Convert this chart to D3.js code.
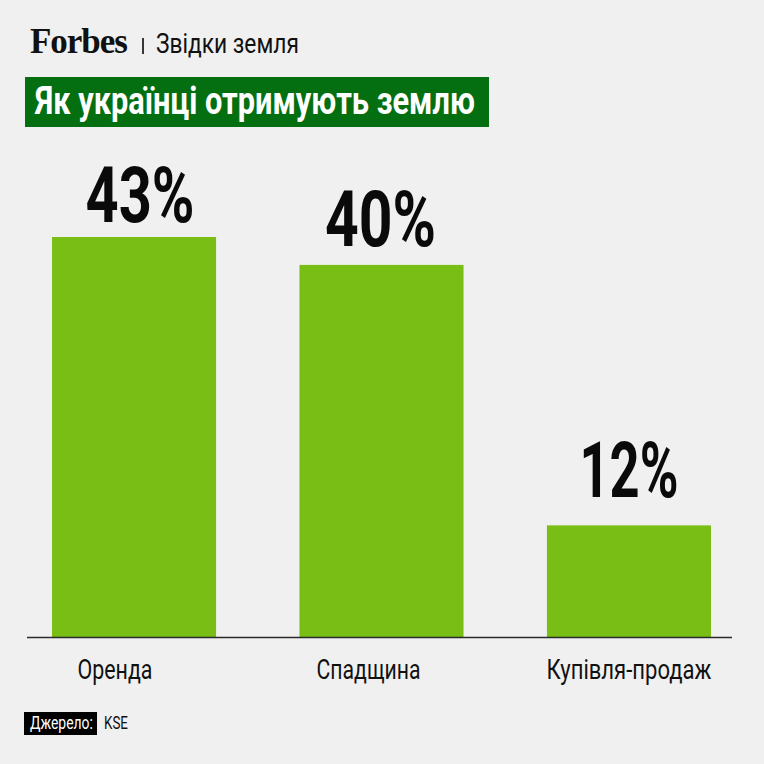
<!DOCTYPE html>
<html>
<head>
<meta charset="utf-8">
<script src="https://cdn.jsdelivr.net/npm/d3@7"></script>
<style>
  html, body { margin: 0; padding: 0; background: #f0f0f0; }
  svg { display: block; }
  .cond { font-family: Roboto, "Noto Sans", sans-serif; }
</style>
</head>
<body>
<svg id="chart" width="764" height="764"></svg>
<script>
// ── data ──────────────────────────────────────────────
const categories = ['Оренда', 'Спадщина', 'Купівля-продаж'];
const shares = [43, 40, 12];
const valueLabels = ['43%', '40%', '12%'];

const W = 764, H = 764;
const BAR_COLOR = '#79be15', TITLE_BG = '#046f10';

// no condensed face installed: squeeze a regular one to the width it should take
function squeeze(sel, width) {
  sel.each(function() {
    const t = d3.select(this);
    const w = this.getComputedTextLength();
    const k = typeof width === 'function' ? width.apply(this, arguments) / w : width / w;
    const x0 = +t.attr('x') || 0, y0 = +t.attr('y') || 0;
    t.attr('transform', `translate(${x0},${y0}) scale(${k},1) translate(${-x0},${-y0})`);
  });
  return sel;
}

const svg = d3.select('#chart');
svg.append('rect').attr('width', W).attr('height', H).attr('fill', '#f0f0f0');

// ── header ──
svg.append('text').attr('x', 30).attr('y', 53)
  .attr('font-family', '"Liberation Serif", "DejaVu Serif", serif')
  .attr('font-weight', 700).attr('font-size', 35).attr('letter-spacing', -1)
  .attr('fill', '#111').text('Forbes')
  .call(squeeze, 97);
svg.append('line').attr('x1', 143).attr('x2', 143).attr('y1', 38).attr('y2', 54)
  .attr('stroke', '#222').attr('stroke-width', 1.8);
svg.append('text').attr('class', 'cond').attr('x', 156).attr('y', 53)
  .attr('font-size', 28).attr('fill', '#111').text('Звідки земля')
  .call(squeeze, 143);

svg.append('rect').attr('x', 25).attr('y', 77).attr('width', 464).attr('height', 50)
  .attr('fill', TITLE_BG);
svg.append('text').attr('class', 'cond').attr('x', 35).attr('y', 114)
  .attr('font-size', 38).attr('font-weight', 700).attr('fill', '#fff')
  .text('Як українці отримують землю')
  .call(squeeze, 440);

// ── chart ──
const x = d3.scaleBand().domain(categories).range([52, 711]).paddingInner(0.337).paddingOuter(0);
const y = d3.scaleLinear().domain([0, 43]).range([637, 237]);

const labelGap = [15, 19, 28];       // gap between number and bar top
const valueShift = [6, -1, 0];
const catShift = [-19, -13, 0];      // category label nudge
const valueWidth = [109, 111, 99];
const catWidth = [75, 104, 165];

const bars = svg.append('g').selectAll('g').data(categories).join('g');

bars.append('rect')
  .attr('x', d => x(d)).attr('width', x.bandwidth())
  .attr('y', (d, i) => y(shares[i]))
  .attr('height', (d, i) => y(0) - y(shares[i]))
  .attr('fill', BAR_COLOR);

bars.append('text').attr('class', 'cond')
  .attr('text-anchor', 'middle').attr('font-weight', 700).attr('font-size', 77)
  .attr('fill', '#0a0a0a')
  .attr('x', (d, i) => x(d) + x.bandwidth() / 2 + valueShift[i])
  .attr('y', (d, i) => y(shares[i]) - labelGap[i])
  .text((d, i) => valueLabels[i])
  .call(squeeze, (d, i) => valueWidth[i]);

svg.append('line').attr('x1', 27).attr('x2', 732).attr('y1', y(0) + 0.5).attr('y2', y(0) + 0.5)
  .attr('stroke', '#2a2a2a').attr('stroke-width', 1.6);

bars.append('text').attr('class', 'cond')
  .attr('text-anchor', 'middle').attr('font-size', 28).attr('fill', '#111')
  .attr('x', (d, i) => x(d) + x.bandwidth() / 2 + catShift[i]).attr('y', 679)
  .text(d => d)
  .call(squeeze, (d, i) => catWidth[i]);

// ── source ──
svg.append('rect').attr('x', 24).attr('y', 712).attr('width', 73).attr('height', 23).attr('fill', '#000');
svg.append('text').attr('class', 'cond').attr('x', 30).attr('y', 729)
  .attr('font-size', 18).attr('fill', '#fff').text('Джерело:')
  .call(squeeze, 63);
svg.append('text').attr('class', 'cond').attr('x', 104).attr('y', 729)
  .attr('font-size', 18).attr('fill', '#111').text('KSE')
  .call(squeeze, 24);
</script>
</body>
</html>
